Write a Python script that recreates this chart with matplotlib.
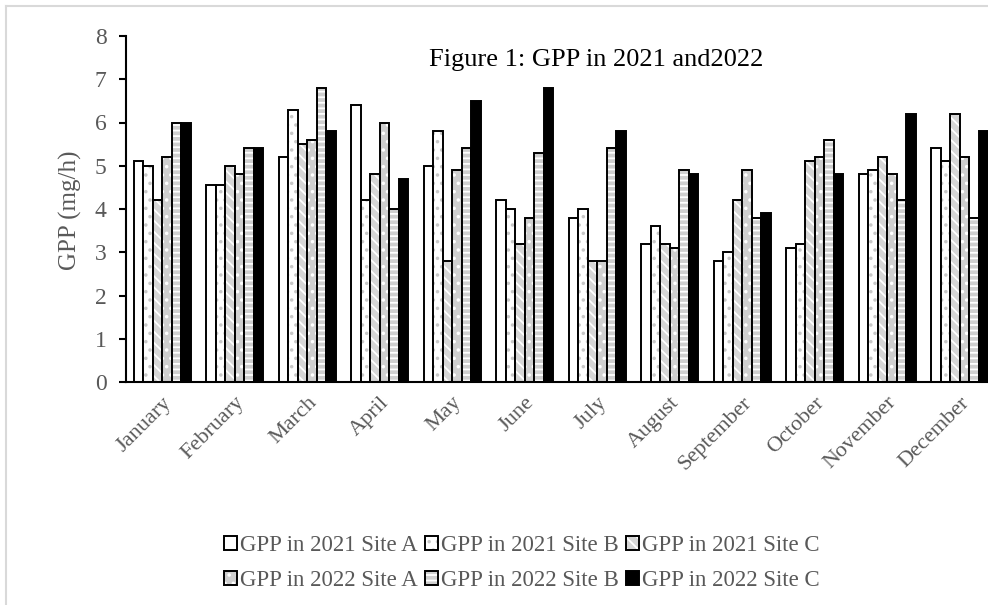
import numpy as np
import matplotlib
matplotlib.use('Agg')
import matplotlib.pyplot as plt
import matplotlib.transforms as mtransforms
from matplotlib.patches import Patch
from matplotlib.lines import Line2D
from matplotlib.legend_handler import HandlerTuple

# Data
months = ['January', 'February', 'March', 'April', 'May', 'June',
          'July', 'August', 'September', 'October', 'November', 'December']
gpp_2021_a = [5.1, 4.55, 5.2, 6.4, 5.0, 4.2, 3.8, 3.2, 2.8, 3.1, 4.8, 5.4]
gpp_2021_b = [5.0, 4.55, 6.3, 4.2, 5.8, 4.0, 4.0, 3.6, 3.0, 3.2, 4.9, 5.1]
gpp_2021_c = [4.2, 5.0, 5.5, 4.8, 2.8, 3.2, 2.8, 3.2, 4.2, 5.1, 5.2, 6.2]
gpp_2022_a = [5.2, 4.8, 5.6, 6.0, 4.9, 3.8, 2.8, 3.1, 4.9, 5.2, 4.8, 5.2]
gpp_2022_b = [6.0, 5.4, 6.8, 4.0, 5.4, 5.3, 5.4, 4.9, 3.8, 5.6, 4.2, 3.8]
gpp_2022_c = [6.0, 5.4, 5.8, 4.7, 6.5, 6.8, 5.8, 4.8, 3.9, 4.8, 6.2, 5.8]
labels = ['GPP in 2021 Site A', 'GPP in 2021 Site B', 'GPP in 2021 Site C',
          'GPP in 2022 Site A', 'GPP in 2022 Site B', 'GPP in 2022 Site C']

series = [gpp_2021_a, gpp_2021_b, gpp_2021_c, gpp_2022_a, gpp_2022_b, gpp_2022_c]
# (face colour, hatch, hatch colour)
styles = [('white', None, 'white'),
          ('white', '..', '#c8c8c8'),
          ('#d6d6d6', '\\\\\\', 'white'),
          ('#cfcfcf', '..', 'white'),
          ('#cfcfcf', '---', 'white'),
          ('black', None, 'black')]

plt.rcParams['font.family'] = ['Liberation Serif', 'DejaVu Serif']
plt.rcParams['hatch.linewidth'] = 1.3
grey = '#595959'

fig = plt.figure(figsize=(9.88, 6.05), dpi=100)
ax = fig.add_axes([126/988, (605-382)/605, 870/988, 346/605])

x = np.arange(len(months))
w = 0.131
handles = []
for k, (vals, (fc, hatch, hc)) in enumerate(zip(series, styles)):
    pos = x + (k - 2.5) * w
    ax.bar(pos, vals, w, color=fc, hatch=hatch, edgecolor=hc, linewidth=0)
    ax.bar(pos, vals, w, fill=False, edgecolor='black', linewidth=1.4)
    handles.append((Patch(facecolor=fc, hatch=hatch, edgecolor=hc, linewidth=0),
                    Patch(fill=False, edgecolor='black', linewidth=1.4)))

ax.set_xlim(-0.5, 11.5)
ax.set_ylim(0, 8)
ax.set_yticks(range(9))
ax.set_xticks(x)
ax.set_xticklabels(months, rotation=45, ha='right', va='top',
                   rotation_mode='anchor', fontsize=16, color=grey)
shift = mtransforms.ScaledTranslation(-5/100, 0, fig.dpi_scale_trans)
for lab in ax.get_xticklabels():
    lab.set_transform(lab.get_transform() + shift)
ax.tick_params(axis='x', length=0, pad=8)
ax.tick_params(axis='y', length=5, width=1.5, pad=9, labelsize=17, labelcolor=grey)
for s in ['top', 'right']:
    ax.spines[s].set_visible(False)
for s in ['left', 'bottom']:
    ax.spines[s].set_linewidth(1.5)

fig.text(70/988, (605-210)/605, 'GPP (mg/h)', rotation=90, ha='center',
         va='center', fontsize=18, color=grey)
ax.text(0.54, 0.93, 'Figure 1: GPP in 2021 and2022', transform=ax.transAxes,
        ha='center', va='center', fontsize=19, color='black')

order = [0, 3, 1, 4, 2, 5]
leg = fig.legend([handles[i] for i in order], [labels[i] for i in order],
                 ncol=3, loc='center', bbox_to_anchor=(522/988, (605-563)/605),
                 frameon=False, fontsize=16.5, handlelength=0.55, handleheight=0.55,
                 handletextpad=0.15, columnspacing=0.3, labelspacing=0.6,
                 handler_map={tuple: HandlerTuple(ndivide=1, pad=0)})
for t in leg.get_texts():
    t.set_color(grey)

# light frame of the chart area
fig.add_artist(Line2D([6/988, 6/988], [0, 1 - 6/605], color='#d9d9d9', lw=1.5))
fig.add_artist(Line2D([6/988, 1], [1 - 6/605, 1 - 6/605], color='#d9d9d9', lw=1.5))

fig.savefig('out.png', dpi=100)
